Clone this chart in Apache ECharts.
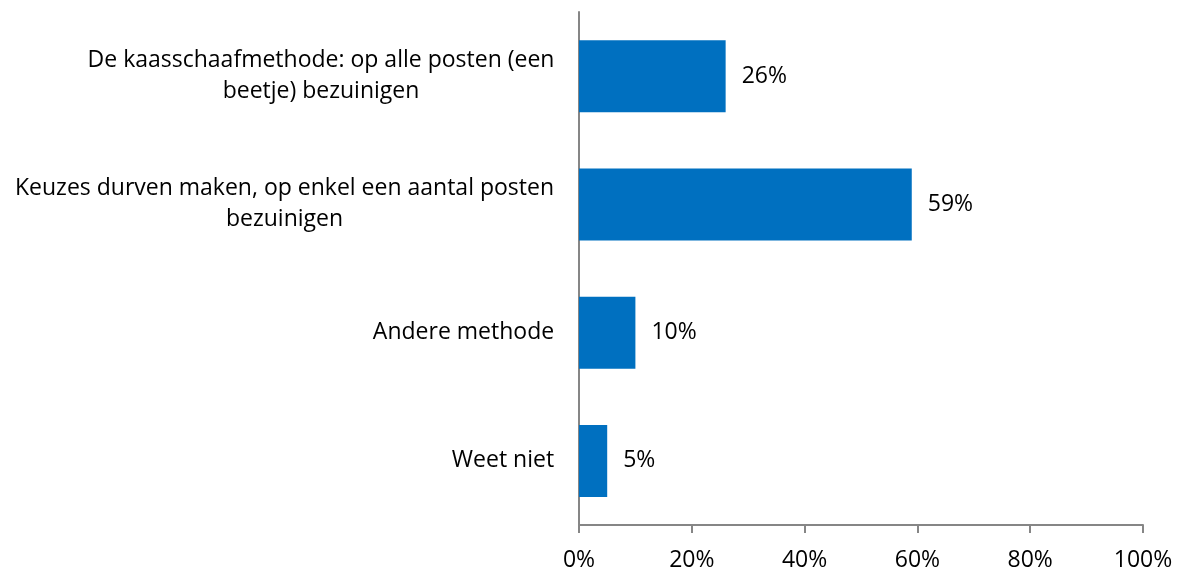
<!DOCTYPE html>
<html>
<head>
<meta charset="utf-8">
<script src="https://cdn.jsdelivr.net/npm/echarts@6/dist/echarts.min.js"></script>
<style>
  html, body { margin: 0; padding: 0; background: #fff; }
  #chart { width: 1181px; height: 572px; }
</style>
</head>
<body>
<div id="chart"></div>
<script>
  // categories, top to bottom
  const categories = [
    'De kaasschaafmethode: op alle posten (een\nbeetje) bezuinigen',
    'Keuzes durven maken, op enkel een aantal posten\nbezuinigen',
    'Andere methode',
    'Weet niet'
  ];
  const values = [26, 59, 10, 5];
  const tickLabels = ['0%', '20%', '40%', '60%', '80%', '100%'];

  const font = '"Open Sans", "Liberation Sans", sans-serif';
  const fontSize = 23;

  // lines of a wrapped label are centred on each other, block is right aligned
  const ctx = document.createElement('canvas').getContext('2d');
  ctx.font = fontSize + 'px ' + font;
  const rich = {};
  categories.forEach((c, i) => {
    const w = Math.max(...c.split('\n').map(s => ctx.measureText(s).width));
    rich['l' + i] = {
      width: Math.ceil(w) + 1,
      align: 'center',
      fontFamily: font,
      fontSize: fontSize,
      lineHeight: 31,
      color: '#000'
    };
  });

  const chart = echarts.init(document.getElementById('chart'));

  const option = {
    animation: false,
    grid: { left: 579, right: 38, top: 12, bottom: 47 },
    xAxis: {
      type: 'value',
      min: 0,
      max: 100,
      interval: 20,
      axisLine: { show: true, lineStyle: { color: '#868686', width: 2 } },
      axisTick: { show: true, length: 8, lineStyle: { color: '#868686', width: 2 } },
      splitLine: { show: false },
      axisLabel: {
        color: '#000',
        fontFamily: font,
        fontSize: fontSize,
        margin: 24,
        formatter: (v) => tickLabels[v / 20]
      }
    },
    yAxis: {
      type: 'category',
      inverse: true,
      data: categories,
      axisLine: { show: true, lineStyle: { color: '#868686', width: 2 } },
      axisTick: { show: false },
      axisLabel: {
        color: '#000',
        fontFamily: font,
        fontSize: fontSize,
        lineHeight: 31,
        align: 'right',
        margin: 24,
        formatter: (v, i) => v.split('\n').map(s => '{l' + i + '|' + s + '}').join('\n'),
        rich: rich
      }
    },
    series: [{
      type: 'bar',
      data: values,
      barWidth: 72,
      itemStyle: { color: '#0070C0' },
      label: {
        show: true,
        position: 'right',
        distance: 16,
        color: '#000',
        fontFamily: font,
        fontSize: fontSize,
        formatter: (p) => p.value + '%'
      }
    }]
  };
  chart.setOption(option);
</script>
</body>
</html>
